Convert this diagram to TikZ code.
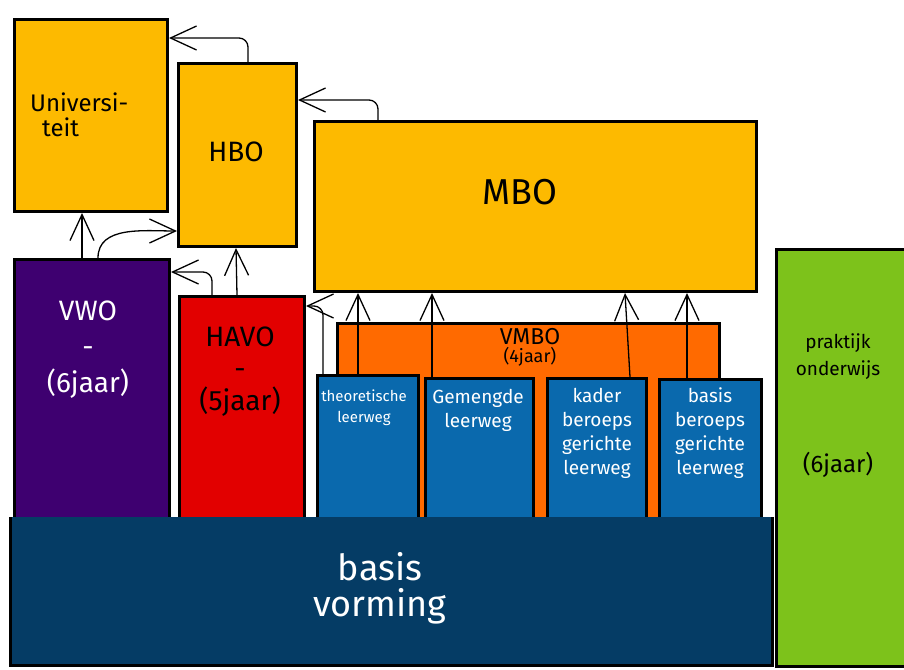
\documentclass[tikz,border=0pt]{standalone}
\usepackage{fontspec}
\setmainfont{Fira Sans}
\usetikzlibrary{arrows.meta}
\definecolor{cyellow}{HTML}{FDBA00}
\definecolor{cpurple}{HTML}{3E0070}
\definecolor{cred}{HTML}{E20000}
\definecolor{corange}{HTML}{FF6A00}
\definecolor{cblue}{HTML}{0A69AD}
\definecolor{cdark}{HTML}{053C65}
\definecolor{cgreen}{HTML}{7DC21B}
\begin{document}
\begin{tikzpicture}[x=1pt,y=-1pt,
  box/.style={draw=black,line width=3pt,inner sep=0pt,anchor=north west},
  lbl/.style={align=center,inner sep=0pt},
  arr/.style={-{Straight Barb[length=26pt,width=24pt]},line width=1.3pt}]
\useasboundingbox (0,0) rectangle (904,669);
% boxes
\node[box,fill=cyellow,minimum width=153pt,minimum height=192pt] (uni) at (13,18) {};
\node[box,fill=cyellow,minimum width=118pt,minimum height=183pt] (hbo) at (177,62) {};
\node[box,fill=cyellow,minimum width=442pt,minimum height=170pt] (mbo) at (313,120) {};
\node[box,fill=cpurple,minimum width=155pt,minimum height=264pt] (vwo) at (13,258) {};
\node[box,fill=cred,minimum width=125pt,minimum height=227pt] (havo) at (178,295) {};
\node[box,fill=corange,minimum width=382pt,minimum height=200pt] (vmbo) at (336,322) {};
\node[box,fill=cblue,minimum width=101pt,minimum height=148pt] (theo) at (316,374) {};
\node[box,fill=cblue,minimum width=108pt,minimum height=145pt] (gem) at (424,377) {};
\node[box,fill=cblue,minimum width=99pt,minimum height=145pt] (kader) at (546,377) {};
\node[box,fill=cblue,minimum width=102pt,minimum height=144pt] (basisb) at (658,378) {};
\node[box,fill=cgreen,minimum width=135pt,minimum height=417pt] (prak) at (775,248) {};
\node[anchor=north west,fill=cdark,inner sep=0pt,minimum width=762pt,minimum height=148pt] (bv) at (10,517) {};
\draw[line width=3pt] (bv.north west) -- (bv.south west) -- (bv.south east) -- (bv.north east);
% texts
\node[lbl,align=left,anchor=west,font=\fontsize{24}{25}\selectfont] (tuni) at (30,115) {Universi-\\\hspace*{12pt}teit};
\node[lbl,font=\fontsize{28}{30}\selectfont] (thbo) at (236,152) {HBO};
\node[lbl,font=\fontsize{36}{38}\selectfont] (tmbo) at (520,192) {MBO};
\node[lbl,text=white,font=\fontsize{28}{36}\selectfont] (tvwo) at (88,350) {VWO\\-\\(6jaar)};
\node[lbl,font=\fontsize{28}{32}\selectfont] (thavo) at (240,372) {HAVO\\-\\(5jaar)};
\node[lbl,font=\fontsize{23}{20}\selectfont] (tvmbo) at (530,337) {VMBO};
\node[lbl,font=\fontsize{18}{17}\selectfont] (tvmbo2) at (530,357) {(4jaar)};
\node[lbl,text=white,font=\fontsize{15}{21}\selectfont] (ttheo) at (364,408) {theoretische\\leerweg};
\node[lbl,text=white,font=\fontsize{19}{24}\selectfont] (tgem) at (478,410) {Gemengde\\leerweg};
\node[lbl,text=white,font=\fontsize{19}{24}\selectfont] (tkader) at (597,433) {kader\\beroeps\\gerichte\\leerweg};
\node[lbl,text=white,font=\fontsize{19}{24}\selectfont] (tbasisb) at (710,433) {basis\\beroeps\\gerichte\\leerweg};
\node[lbl,text=white,font=\fontsize{36}{36}\selectfont] (tbv) at (380,588) {basis\\vorming};
\node[lbl,font=\fontsize{19}{27}\selectfont] (tprak) at (838,357) {praktijk\\onderwijs};
\node[lbl,font=\fontsize{24}{24}\selectfont] (tprak2) at (838,465) {(6jaar)};
% arrows
\draw[arr] ([xshift=69pt]vwo.north west) -- ([xshift=69pt]uni.south west);
\draw[arr] ([xshift=85pt]vwo.north west) to[out=90,in=180] ([yshift=17pt]hbo.south west);
\draw[arr] ([xshift=71pt]hbo.north west) [rounded corners=9pt] |- ([yshift=-20pt]uni.north east) [sharp corners];
\draw[arr] ([xshift=34pt]havo.north west) [rounded corners=9pt] |- ([yshift=-14pt]vwo.north east) [sharp corners];
\draw[arr] ([xshift=59pt]havo.north west) -- ([xshift=59pt]hbo.south west);
\draw[arr] ([xshift=65pt]mbo.north west) [rounded corners=9pt] |- ([yshift=-38pt]hbo.north east) [sharp corners];
\draw[arr] ([xshift=7pt]theo.north west) [rounded corners=9pt] |- ([yshift=-11pt]havo.north east) [sharp corners];
\draw[arr] ([xshift=42pt]theo.north west) -- ([xshift=45pt]mbo.south west);
\draw[arr] ([xshift=8pt]gem.north west) -- ([xshift=119pt]mbo.south west);
\draw[arr] ([xshift=84pt]kader.north west) -- ([xshift=312pt]mbo.south west);
\draw[arr] ([xshift=29pt]basisb.north west) -- ([xshift=374pt]mbo.south west);
\end{tikzpicture}
\end{document}
